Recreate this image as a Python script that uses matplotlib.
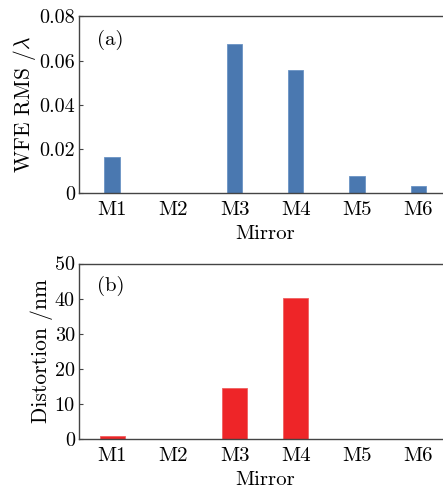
import numpy as np
import matplotlib
matplotlib.use('Agg')
import matplotlib.pyplot as plt

plt.rcParams['font.family'] = 'cmr10'
plt.rcParams['mathtext.fontset'] = 'cm'
plt.rcParams['axes.unicode_minus'] = False

mirrors = ['M1', 'M2', 'M3', 'M4', 'M5', 'M6']
wfe_rms = [0.0165, 0.0, 0.0676, 0.0558, 0.0076, 0.0032]
distortion = [0.9, 0.0, 14.4, 40.3, 0.0, 0.0]

wfe_ticks = [0, 0.02, 0.04, 0.06, 0.08]
wfe_ticklabels = ['0', '0.02', '0.04', '0.06', '0.08']
dist_ticks = [0, 10, 20, 30, 40, 50]

W, H = 443, 488
fig = plt.figure(figsize=(W / 100, H / 100), dpi=100)

def px_axes(left, top, right, bottom):
    return fig.add_axes([left / W, 1 - bottom / H, (right - left) / W, (bottom - top) / H])

x = np.arange(len(mirrors))
ax1 = px_axes(79, 16.5, 452, 193)
ax2 = px_axes(79, 263.5, 452, 439)

ax1.bar(x, wfe_rms, width=0.25, color='#4a78b0', edgecolor='#6a93c4', linewidth=0.6)
ax1.set_ylim(0, 0.08)
ax1.set_yticks(wfe_ticks)
ax1.set_yticklabels(wfe_ticklabels)
ax1.set_ylabel(r'WFE RMS /$\lambda$', fontsize=15.5, labelpad=1)
ax1.text(0.048, 0.87, '(a)', transform=ax1.transAxes, fontsize=15, va='center')

ax2.bar(x, distortion, width=0.41, color='#ee2528', edgecolor='#f06060', linewidth=0.6)
ax2.set_ylim(0, 50)
ax2.set_yticks(dist_ticks)
ax2.set_ylabel('Distortion /nm', fontsize=15.5, labelpad=1)
ax2.text(0.048, 0.87, '(b)', transform=ax2.transAxes, fontsize=15, va='center')

for ax in (ax1, ax2):
    ax.set_xlim(-0.54, 5.55)
    ax.set_xticks(x)
    ax.set_xticklabels(mirrors)
    ax.set_xlabel('Mirror', fontsize=15, labelpad=4)
    ax.tick_params(axis='x', length=0, labelsize=15, pad=6)
    ax.tick_params(axis='y', direction='in', length=3, labelsize=14.5, pad=3, color='#444444')
    for s in ax.spines.values():
        s.set_color('#444444')
        s.set_linewidth(1.0)

fig.savefig('out.png', dpi=100)
